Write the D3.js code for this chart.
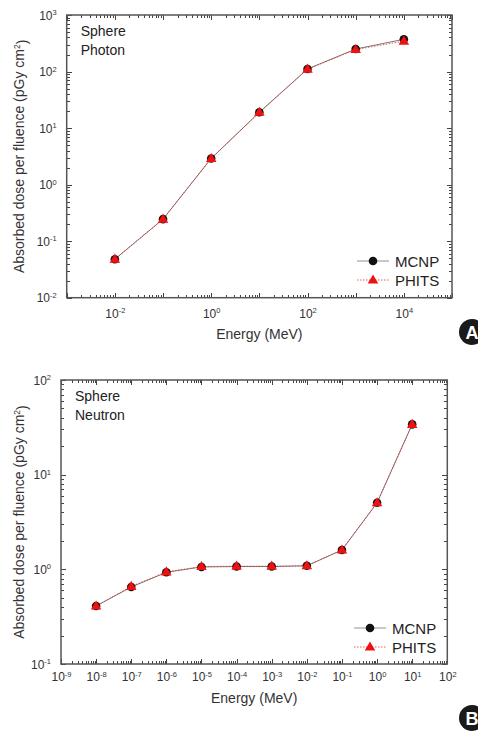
<!DOCTYPE html>
<meta charset="utf-8">
<style>
body { margin: 0; background: #fff; font-family: "Liberation Sans", Arial, sans-serif; }
.axis path, .axis line { fill: none; stroke: #444; shape-rendering: crispEdges; }
.frame { fill: none; stroke: #555; stroke-width: 1.5; }
.tick text { font-size: 12px; fill: #333; }
.title { font-size: 14px; fill: #333; }
.note { font-size: 14px; fill: #222; }
.legend text { font-size: 15px; fill: #222; }
</style>
<body>
<script src="https://d3js.org/d3.v7.min.js"></script>
<script>

// ---- data ----
var photonEnergy = [1e-2, 1e-1, 1e0, 1e1, 1e2, 1e3, 1e4];
var photonMCNP   = [0.048, 0.245, 2.9, 19, 111, 250, 372];
var photonPHITS  = [0.048, 0.245, 2.9, 19, 110, 245, 345];

var neutronEnergy = [1e-8, 1e-7, 1e-6, 1e-5, 1e-4, 1e-3, 1e-2, 1e-1, 1e0, 1e1];
var neutronMCNP   = [0.41, 0.65, 0.93, 1.06, 1.07, 1.07, 1.09, 1.6, 5.05, 34];
var neutronPHITS  = [0.41, 0.66, 0.94, 1.07, 1.08, 1.08, 1.09, 1.6, 5.05, 34];

var photonXTicks = [-2, 0, 2, 4];
var photonYTicks = [-2, -1, 0, 1, 2, 3];
var neutronXTicks = [-9, -8, -7, -6, -5, -4, -3, -2, -1, 0, 1, 2];
var neutronYTicks = [-1, 0, 1, 2];

var svg = d3.select("body").append("svg")
    .attr("width", 478)
    .attr("height", 731);

function supLabel(sel, e) {
    sel.text("");
    sel.append("tspan").text("10");
    sel.append("tspan").attr("dy", "-0.6em").attr("font-size", "7.5px").text(e);
}

function panel(opt) {
    var x = d3.scaleLog().domain(opt.xDomain).range([opt.left, opt.right]);
    var y = d3.scaleLog().domain(opt.yDomain).range([opt.bottom, opt.top]);
    var g = svg.append("g");
    var w = opt.right - opt.left, h = opt.bottom - opt.top;

    // minor tick values
    function minors(domain) {
        var out = [];
        var a = Math.round(Math.log10(domain[0])), b = Math.round(Math.log10(domain[1]));
        for (var e = a; e < b; e++)
            for (var k = 2; k <= 9; k++) out.push(k * Math.pow(10, e));
        return out;
    }
    function majors(domain) {
        var out = [];
        var a = Math.round(Math.log10(domain[0])), b = Math.round(Math.log10(domain[1]));
        for (var e = a; e <= b; e++) out.push(Math.pow(10, e));
        return out;
    }

    // bottom axis
    var xb = g.append("g").attr("class", "axis").attr("transform", "translate(0," + opt.bottom + ")");
    xb.call(d3.axisBottom(x).tickValues(majors(opt.xDomain)).tickSize(-5).tickSizeOuter(0)
        .tickFormat(""));
    xb.selectAll(".tick").each(function(d) {
        var e = Math.round(Math.log10(d));
        if (opt.xLabels.indexOf(e) >= 0) {
            d3.select(this).append("text").attr("y", opt.xLabY).attr("text-anchor", "middle")
                .attr("fill", "#333").call(supLabel, e);
        }
    });
    g.append("g").attr("class", "axis").attr("transform", "translate(0," + opt.bottom + ")")
        .call(d3.axisBottom(x).tickValues(minors(opt.xDomain)).tickSize(-3).tickSizeOuter(0).tickFormat(""));
    // top axis
    g.append("g").attr("class", "axis").attr("transform", "translate(0," + opt.top + ")")
        .call(d3.axisTop(x).tickValues(majors(opt.xDomain)).tickSize(-5).tickSizeOuter(0).tickFormat(""));
    g.append("g").attr("class", "axis").attr("transform", "translate(0," + opt.top + ")")
        .call(d3.axisTop(x).tickValues(minors(opt.xDomain)).tickSize(-3).tickSizeOuter(0).tickFormat(""));

    // left axis
    var yl = g.append("g").attr("class", "axis").attr("transform", "translate(" + opt.left + ",0)");
    yl.call(d3.axisLeft(y).tickValues(majors(opt.yDomain)).tickSize(-5).tickSizeOuter(0).tickFormat(""));
    yl.selectAll(".tick").each(function(d) {
        var e = Math.round(Math.log10(d));
        if (opt.yLabels.indexOf(e) >= 0) {
            d3.select(this).append("text").attr("x", -10).attr("y", 4).attr("text-anchor", "end")
                .attr("fill", "#333").call(supLabel, e);
        }
    });
    g.append("g").attr("class", "axis").attr("transform", "translate(" + opt.left + ",0)")
        .call(d3.axisLeft(y).tickValues(minors(opt.yDomain)).tickSize(-3).tickSizeOuter(0).tickFormat(""));
    // right axis
    g.append("g").attr("class", "axis").attr("transform", "translate(" + opt.right + ",0)")
        .call(d3.axisRight(y).tickValues(majors(opt.yDomain)).tickSize(-5).tickSizeOuter(0).tickFormat(""));
    g.append("g").attr("class", "axis").attr("transform", "translate(" + opt.right + ",0)")
        .call(d3.axisRight(y).tickValues(minors(opt.yDomain)).tickSize(-3).tickSizeOuter(0).tickFormat(""));
    g.selectAll(".axis path.domain").remove();

    g.append("rect").attr("class", "frame")
        .attr("x", opt.left).attr("y", opt.top).attr("width", w).attr("height", h);

    // lines
    var line = d3.line().x(function(d) { return x(d[0]); }).y(function(d) { return y(d[1]); });
    var mc = opt.energy.map(function(e, i) { return [e, opt.mcnp[i]]; });
    var ph = opt.energy.map(function(e, i) { return [e, opt.phits[i]]; });

    g.append("path").datum(mc).attr("d", line)
        .attr("fill", "none").attr("stroke", "#555").attr("stroke-width", 0.8);
    g.append("path").datum(ph).attr("d", line)
        .attr("fill", "none").attr("stroke", "#e53030").attr("stroke-width", 0.8)
        .attr("stroke-dasharray", "1.5,1.5");

    var tri = d3.symbol().type(d3.symbolTriangle).size(48);
    g.selectAll(".mc").data(mc).enter().append("circle")
        .attr("cx", function(d) { return x(d[0]); })
        .attr("cy", function(d) { return y(d[1]); })
        .attr("r", 4.3).attr("fill", "#111");
    g.selectAll(".ph").data(ph).enter().append("path")
        .attr("d", tri)
        .attr("transform", function(d) { return "translate(" + x(d[0]) + "," + (y(d[1]) + 0.5) + ")"; })
        .attr("fill", "#ee1111");

    // notes
    g.append("text").attr("class", "note").attr("x", opt.left + 14).attr("y", opt.top + 21).text("Sphere");
    g.append("text").attr("class", "note").attr("x", opt.left + 14).attr("y", opt.top + 40).text(opt.kind);

    // axis titles
    g.append("text").attr("class", "title").attr("text-anchor", "middle")
        .attr("x", (opt.left + opt.right) / 2).attr("y", opt.bottom + opt.titleY)
        .text("Energy (MeV)");
    var yt = g.append("text").attr("class", "title").attr("text-anchor", "middle")
        .attr("transform", "translate(24," + ((opt.top + opt.bottom) / 2) + ") rotate(-90)");
    yt.append("tspan").text("Absorbed dose per fluence (pGy cm");
    yt.append("tspan").attr("dy", "-0.5em").attr("font-size", "8.5px").text("2");
    yt.append("tspan").attr("dy", "0.5em").text(")");

    // legend
    var lg = g.append("g").attr("class", "legend");
    var lx = opt.legX, ly = opt.legY;
    lg.append("line").attr("x1", lx).attr("x2", lx + 32).attr("y1", ly).attr("y2", ly)
        .attr("stroke", "#777").attr("stroke-width", 0.8);
    lg.append("circle").attr("cx", lx + 16).attr("cy", ly).attr("r", 4.3).attr("fill", "#111");
    lg.append("text").attr("x", lx + 38).attr("y", ly + 5.5).text("MCNP");
    lg.append("line").attr("x1", lx).attr("x2", lx + 32).attr("y1", ly + 19).attr("y2", ly + 19)
        .attr("stroke", "#e53030").attr("stroke-width", 0.8).attr("stroke-dasharray", "1.5,1.5");
    lg.append("path").attr("d", tri).attr("transform", "translate(" + (lx + 16) + "," + (ly + 19.5) + ")")
        .attr("fill", "#ee1111");
    lg.append("text").attr("x", lx + 38).attr("y", ly + 24.5).text("PHITS");

    // badge
    svg.append("circle").attr("cx", opt.badgeX).attr("cy", opt.badgeY).attr("r", 13).attr("fill", "#1a1a1a");
    svg.append("text").attr("x", opt.badgeX).attr("y", opt.badgeY + 6.5).attr("text-anchor", "middle")
        .attr("font-size", "18px").attr("font-weight", "bold").attr("fill", "#fff").text(opt.badge);
}

panel({
    left: 66.7, right: 452, top: 15, bottom: 297.7,
    xDomain: [1e-3, 1e5], yDomain: [1e-2, 1e3],
    xLabels: photonXTicks, yLabels: photonYTicks,
    xLabY: 20, titleY: 41,
    energy: photonEnergy, mcnp: photonMCNP, phits: photonPHITS,
    kind: "Photon", legX: 357, legY: 261,
    badge: "A", badgeX: 472, badgeY: 332
});

panel({
    left: 61, right: 447.3, top: 380, bottom: 664,
    xDomain: [1e-9, 1e2], yDomain: [1e-1, 1e2],
    xLabels: neutronXTicks, yLabels: neutronYTicks,
    xLabY: 17, titleY: 39,
    energy: neutronEnergy, mcnp: neutronMCNP, phits: neutronPHITS,
    kind: "Neutron", legX: 354, legY: 628,
    badge: "B", badgeX: 472, badgeY: 718
});

</script>
